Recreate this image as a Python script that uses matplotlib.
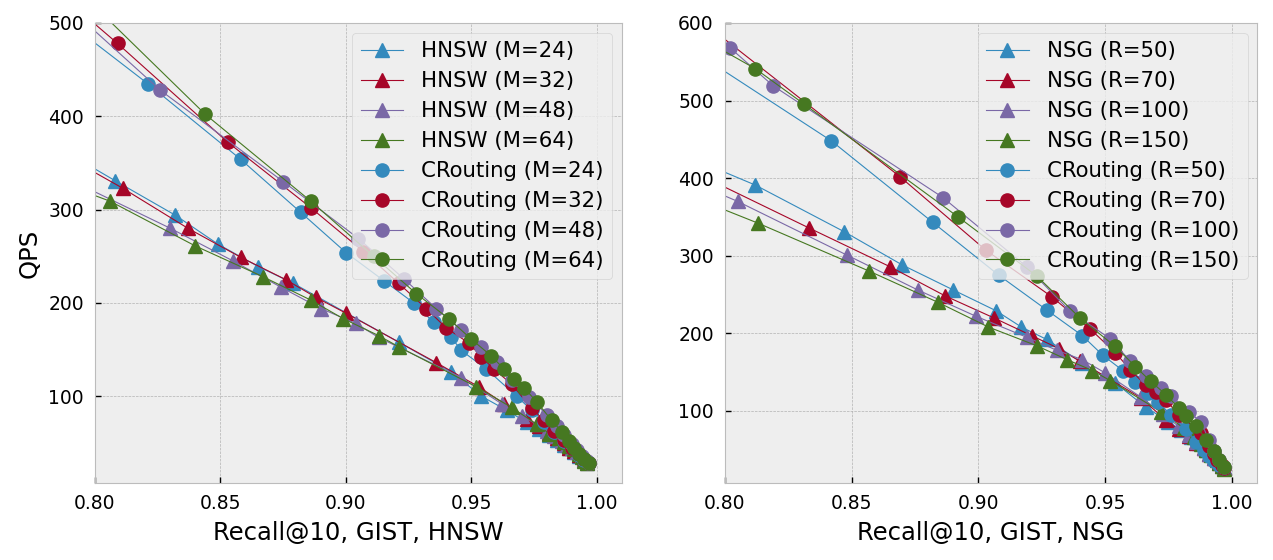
import matplotlib
matplotlib.use("Agg")
import matplotlib.pyplot as plt

# ---- GIST / HNSW panel ----
hnsw_labels = ["HNSW (M=24)", "HNSW (M=32)", "HNSW (M=48)", "HNSW (M=64)"]
hnsw_x = [
    [0.780, 0.808, 0.832, 0.849, 0.865, 0.879, 0.921, 0.942, 0.954, 0.964, 0.972, 0.977, 0.981, 0.984, 0.987, 0.989, 0.991, 0.993, 0.995, 0.996],
    [0.780, 0.811, 0.837, 0.858, 0.876, 0.888, 0.900, 0.936, 0.953, 0.963, 0.972, 0.977, 0.981, 0.984, 0.987, 0.989, 0.991, 0.993, 0.995, 0.996],
    [0.780, 0.830, 0.855, 0.874, 0.890, 0.904, 0.913, 0.946, 0.962, 0.970, 0.976, 0.980, 0.983, 0.986, 0.988, 0.990, 0.992, 0.994, 0.995, 0.996],
    [0.780, 0.806, 0.840, 0.867, 0.886, 0.899, 0.913, 0.921, 0.952, 0.966, 0.976, 0.981, 0.985, 0.987, 0.989, 0.991, 0.993, 0.994, 0.995, 0.996],
]
hnsw_y = [
    [375, 331, 294, 263, 239, 221, 158, 126, 100, 85, 72, 65, 58, 53, 48, 44, 40, 36, 32, 29],
    [370, 323, 280, 249, 225, 206, 189, 136, 110, 92, 76, 68, 61, 55, 50, 45, 41, 37, 33, 29],
    [345, 280, 245, 217, 194, 178, 163, 120, 92, 79, 70, 63, 57, 52, 48, 44, 40, 36, 32, 28],
    [335, 309, 261, 228, 203, 183, 165, 153, 110, 88, 70, 60, 55, 51, 47, 43, 38, 35, 31, 28],
]
cr_hnsw_labels = ["CRouting (M=24)", "CRouting (M=32)", "CRouting (M=48)", "CRouting (M=64)"]
cr_hnsw_x = [
    [0.780, 0.821, 0.858, 0.882, 0.900, 0.915, 0.927, 0.935, 0.942, 0.946, 0.956, 0.968, 0.974, 0.979, 0.983, 0.987, 0.990, 0.993, 0.995, 0.997],
    [0.780, 0.809, 0.853, 0.886, 0.907, 0.921, 0.932, 0.940, 0.949, 0.954, 0.959, 0.966, 0.974, 0.979, 0.983, 0.987, 0.990, 0.993, 0.995, 0.997],
    [0.780, 0.826, 0.875, 0.905, 0.923, 0.936, 0.946, 0.954, 0.960, 0.966, 0.973, 0.980, 0.984, 0.987, 0.990, 0.992, 0.994, 0.996, 0.997],
    [0.780, 0.844, 0.886, 0.911, 0.928, 0.941, 0.950, 0.958, 0.963, 0.967, 0.971, 0.976, 0.982, 0.986, 0.989, 0.991, 0.993, 0.995, 0.997],
]
cr_hnsw_y = [
    [520, 435, 354, 297, 254, 224, 200, 179, 163, 149, 129, 100, 85, 72, 62, 52, 44, 37, 32, 28],
    [545, 478, 372, 302, 255, 221, 194, 173, 157, 142, 129, 113, 87, 74, 63, 53, 45, 38, 33, 28],
    [540, 428, 330, 269, 226, 194, 171, 153, 137, 117, 99, 80, 68, 58, 49, 42, 36, 31, 28],
    [570, 402, 309, 250, 210, 183, 161, 143, 129, 118, 109, 94, 74, 62, 52, 45, 38, 33, 28],
]

# ---- GIST / NSG panel ----
nsg_labels = ["NSG (R=50)", "NSG (R=70)", "NSG (R=100)", "NSG (R=150)"]
nsg_x = [
    [0.780, 0.812, 0.847, 0.870, 0.890, 0.907, 0.917, 0.927, 0.941, 0.954, 0.966, 0.975, 0.980, 0.984, 0.987, 0.990, 0.992, 0.994, 0.996, 0.997],
    [0.780, 0.833, 0.865, 0.887, 0.906, 0.921, 0.932, 0.940, 0.964, 0.974, 0.979, 0.983, 0.986, 0.989, 0.991, 0.993, 0.995, 0.996, 0.997],
    [0.780, 0.805, 0.848, 0.876, 0.899, 0.919, 0.931, 0.941, 0.950, 0.964, 0.973, 0.979, 0.983, 0.986, 0.989, 0.991, 0.993, 0.995, 0.996, 0.997],
    [0.780, 0.813, 0.857, 0.884, 0.904, 0.923, 0.935, 0.945, 0.952, 0.972, 0.981, 0.985, 0.988, 0.990, 0.992, 0.994, 0.995, 0.996, 0.997],
]
nsg_y = [
    [435, 391, 331, 288, 256, 229, 208, 192, 162, 136, 105, 86, 75, 66, 58, 50, 44, 38, 32, 27],
    [420, 336, 286, 248, 220, 197, 180, 164, 117, 88, 76, 67, 59, 52, 45, 39, 34, 30, 26],
    [405, 370, 301, 256, 222, 195, 178, 166, 149, 118, 96, 80, 69, 60, 52, 45, 39, 33, 29, 26],
    [385, 342, 280, 240, 208, 184, 166, 152, 139, 99, 78, 66, 57, 50, 43, 37, 33, 29, 25],
]
cr_nsg_labels = ["CRouting (R=50)", "CRouting (R=70)", "CRouting (R=100)", "CRouting (R=150)"]
cr_nsg_x = [
    [0.780, 0.842, 0.882, 0.908, 0.927, 0.941, 0.949, 0.957, 0.962, 0.967, 0.971, 0.976, 0.982, 0.986, 0.989, 0.991, 0.993, 0.995, 0.997],
    [0.780, 0.869, 0.903, 0.929, 0.944, 0.954, 0.960, 0.966, 0.970, 0.974, 0.979, 0.988, 0.991, 0.993, 0.994, 0.996, 0.997],
    [0.780, 0.802, 0.819, 0.886, 0.919, 0.936, 0.952, 0.960, 0.966, 0.972, 0.976, 0.983, 0.988, 0.991, 0.993, 0.995, 0.997],
    [0.780, 0.812, 0.831, 0.892, 0.923, 0.940, 0.954, 0.962, 0.968, 0.974, 0.979, 0.982, 0.986, 0.990, 0.993, 0.995, 0.997],
]
cr_nsg_y = [
    [580, 448, 343, 275, 230, 197, 172, 152, 137, 123, 111, 95, 76, 60, 50, 42, 36, 30, 26],
    [630, 402, 307, 247, 206, 175, 153, 133, 124, 114, 95, 72, 55, 45, 37, 30, 26],
    [625, 568, 519, 375, 286, 229, 193, 164, 145, 130, 119, 99, 85, 62, 48, 37, 28],
    [600, 541, 496, 350, 274, 220, 183, 157, 138, 121, 104, 93, 80, 63, 48, 37, 27],
]

colors = ["#348ABD", "#A60628", "#7A68A6", "#467821"]

plt.style.use("bmh")
plt.rcParams["font.family"] = "DejaVu Sans"

fig = plt.figure(figsize=(12.73, 5.6), dpi=100)
ax1 = fig.add_axes([0.0746, 0.1375, 0.414, 0.8215])
ax2 = fig.add_axes([0.5695, 0.1375, 0.418, 0.8215])


def draw(ax, tri_labels, tri_x, tri_y, cr_labels, cr_x, cr_y):
    for i in range(4):
        ax.plot(tri_x[i], tri_y[i], marker="^", markersize=9.5, linewidth=0.8,
                color=colors[i], label=tri_labels[i])
    for i in range(4):
        ax.plot(cr_x[i], cr_y[i], marker="o", markersize=9.5, linewidth=0.8,
                color=colors[i], label=cr_labels[i])
    ax.set_xlim(0.8, 1.01)
    ax.set_xticks([0.80, 0.85, 0.90, 0.95, 1.00])
    ax.tick_params(labelsize=13.5, direction="in", length=4.5, width=1,
                   color="black", pad=8, top=False, right=False)
    ax.legend(loc="upper right", fontsize=15.3, handlelength=2.0,
              handletextpad=0.85, borderaxespad=0.45, labelspacing=0.47)


draw(ax1, hnsw_labels, hnsw_x, hnsw_y, cr_hnsw_labels, cr_hnsw_x, cr_hnsw_y)
ax1.set_ylim(7, 500)
ax1.set_yticks([100, 200, 300, 400, 500])
ax1.set_xlabel("Recall@10, GIST, HNSW", fontsize=17.5, labelpad=6)
ax1.set_ylabel("QPS", fontsize=17.5, labelpad=5)

draw(ax2, nsg_labels, nsg_x, nsg_y, cr_nsg_labels, cr_nsg_x, cr_nsg_y)
ax2.set_ylim(7, 600)
ax2.set_yticks([100, 200, 300, 400, 500, 600])
ax2.set_xlabel("Recall@10, GIST, NSG", fontsize=17.5, labelpad=6)

fig.savefig("out.png", dpi=100)
